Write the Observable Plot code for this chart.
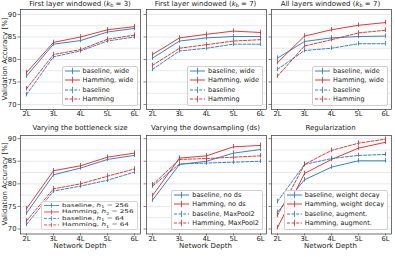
<!DOCTYPE html>
<html><head><meta charset="utf-8">
<script src="https://cdn.jsdelivr.net/npm/d3@7"></script>
<script src="https://cdn.jsdelivr.net/npm/@observablehq/plot@0.6"></script>
<style>
body{margin:0;background:#fff;}
#root{position:relative;width:395px;height:257px;overflow:hidden;font-family:"DejaVu Sans",sans-serif;color:#222;}
.abs{position:absolute;}
.title{font-size:7px;line-height:7px;white-space:nowrap;transform:translateX(-50%);}
.sub{font-size:70%;position:relative;top:0.3em;}
.xlab{font-size:7px;line-height:7px;white-space:nowrap;transform:translateX(-50%);}
.ylab{font-size:7px;line-height:7px;white-space:nowrap;transform:translate(-50%,-50%) rotate(-90deg);}
.legend{border:0.8px solid #cfcfcf;border-radius:2px;background:rgba(255,255,255,0.85);padding:0 3px 1.5px 2px;font-size:6.5px;}
.lrow{display:flex;align-items:center;height:9.1px;white-space:nowrap;}
.lrow svg{flex:none;margin-right:3px;}
</style></head><body><div id="root"></div>
<script>
// ---------- data ----------
const depths = ["2L","3L","4L","5L","6L"];
const yTicks = [70,75,80,85,90];
const gridTicks = [70,72.5,75,77.5,80,82.5,85,87.5,90];
const ERR = 0.5; // approximate error-bar half length (accuracy %)

// Panel 1: First layer windowed (k_b = 3)
const p1BaselineWide = [76.3, 83.4, 84.2, 86.1, 86.9];
const p1HammingWide  = [77.1, 83.8, 85.0, 86.6, 87.3];
const p1Baseline     = [72.2, 80.6, 81.9, 84.1, 85.0];
const p1Hamming      = [73.5, 81.1, 82.2, 84.5, 85.4];
// Panel 2: First layer windowed (k_b = 7)
const p2BaselineWide = [80.3, 84.1, 84.8, 85.1, 85.1];
const p2HammingWide  = [81.1, 84.8, 85.6, 86.3, 86.0];
const p2Baseline     = [77.8, 81.9, 82.5, 83.4, 83.4];
const p2Hamming      = [78.7, 82.5, 83.3, 84.1, 84.4];
// Panel 3: All layers windowed (k_b = 7)
const p3BaselineWide = [80.3, 84.0, 84.8, 85.1, 85.2];
const p3HammingWide  = [79.3, 85.2, 86.6, 87.6, 88.2];
const p3Baseline     = [77.8, 82.0, 82.5, 83.5, 83.5];
const p3Hamming      = [76.3, 83.0, 84.4, 85.9, 86.5];
// Panel 4: Varying the bottleneck size
const p4Baseline256 = [73.5, 82.0, 83.5, 85.4, 86.3];
const p4Hamming256  = [74.5, 82.9, 84.0, 85.9, 86.8];
const p4Baseline64  = [71.0, 78.4, 79.5, 80.8, 82.6];
const p4Hamming64   = [71.8, 78.9, 80.0, 81.7, 83.3];
// Panel 5: Varying the downsampling (ds)
const p5BaselineNoDs = [76.4, 84.3, 85.0, 86.8, 87.6];
const p5HammingNoDs  = [77.4, 85.7, 86.2, 88.2, 88.5];
const p5BaselineMP2  = [79.5, 84.4, 84.6, 84.8, 85.0];
const p5HammingMP2   = [79.8, 85.4, 85.6, 85.9, 86.2];
// Panel 6: Regularization
const p6BaselineWD  = [73.7, 80.9, 83.7, 85.1, 85.1];
const p6HammingWD   = [70.3, 82.3, 85.4, 87.9, 89.2];
const p6BaselineAug = [76.1, 84.3, 85.6, 86.3, 86.5];
const p6HammingAug  = [73.0, 84.3, 87.4, 89.0, 89.9];

const titles = [
  'First layer windowed (<i>k</i><span class="sub">b</span> = 3)',
  'First layer windowed (<i>k</i><span class="sub">b</span> = 7)',
  'All layers windowed (<i>k</i><span class="sub">b</span> = 7)',
  'Varying the bottleneck size',
  'Varying the downsampling (ds)',
  'Regularization'
];
const labels = [
  ["baseline, wide","Hamming, wide","baseline","Hamming"],
  ["baseline, wide","Hamming, wide","baseline","Hamming"],
  ["baseline, wide","Hamming, wide","baseline","Hamming"],
  ['baseline, <i>h</i><span class="sub">1</span> = 256','Hamming, <i>h</i><span class="sub">2</span> = 256','baseline, <i>h</i><span class="sub">1</span> = 64','Hamming, <i>h</i><span class="sub">1</span> = 64'],
  ["baseline, no ds","Hamming, no ds","baseline, MaxPool2","Hamming, MaxPool2"],
  ["baseline, weight decay","Hamming, weight decay","baseline, augment.","Hamming, augment."]
];
const values = [
  [p1BaselineWide,p1HammingWide,p1Baseline,p1Hamming],
  [p2BaselineWide,p2HammingWide,p2Baseline,p2Hamming],
  [p3BaselineWide,p3HammingWide,p3Baseline,p3Hamming],
  [p4Baseline256,p4Hamming256,p4Baseline64,p4Hamming64],
  [p5BaselineNoDs,p5HammingNoDs,p5BaselineMP2,p5HammingMP2],
  [p6BaselineWD,p6HammingWD,p6BaselineAug,p6HammingAug]
];

// ---------- styles / layout ----------
const BLUE = "#1f77b4", RED = "#d62728";
const seriesStyle = [
  {color: BLUE, dash: null},
  {color: RED, dash: null},
  {color: BLUE, dash: "3,1.6"},
  {color: RED, dash: "3,1.6"}
];
const colLeft = [20, 145.5, 270.5];
const frameW = 120;
const rows = [
  {top: 9, h: 100, domain: [68.9, 91.1], titleTop: 0.8},
  {top: 134.5, h: 98.5, domain: [68.9, 90.7], titleTop: 124.8}
];

const root = document.getElementById("root");
const mL = 20, mR = 3, mT = 2, mB = 12;

values.forEach((series, p) => {
  const col = p % 3, row = rows[Math.floor(p / 3)];
  const data = [];
  series.forEach((vals, s) => vals.forEach((v, i) => data.push({depth: depths[i], value: v, s})));
  const marks = [
    Plot.gridY(gridTicks, {stroke: "#c8c8c8", strokeOpacity: 0.7, strokeWidth: 0.6}),
    Plot.axisY(yTicks, {tickSize: 2.5, tickPadding: 1.5, tickFormat: col === 0 ? (d => d) : (() => ""), label: null, stroke: "#333", strokeWidth: 0.6}),
    Plot.axisX(depths, {tickSize: 2, tickPadding: 0, label: null, stroke: "#333", strokeWidth: 0.6})
  ];
  seriesStyle.forEach((st, s) => {
    const d = data.filter(r => r.s === s);
    marks.push(Plot.line(d, {x: "depth", y: "value", stroke: st.color, strokeWidth: 0.9, strokeDasharray: st.dash}));
    marks.push(Plot.ruleX(d, {x: "depth", y1: r => r.value - ERR, y2: r => r.value + ERR, stroke: st.color, strokeWidth: 0.8}));
  });
  marks.push(Plot.frame({stroke: "#333", strokeWidth: 0.7}));
  const chart = Plot.plot({
    width: mL + frameW + mR,
    height: mT + row.h + mB,
    marginLeft: mL, marginRight: mR, marginTop: mT, marginBottom: mB,
    x: {type: "point", domain: depths, padding: 0.2},
    y: {domain: row.domain},
    style: {background: "none", overflow: "visible", fontFamily: "DejaVu Sans", fontSize: "6.8px", color: "#222"},
    marks
  });
  chart.style.position = "absolute";
  chart.style.left = (colLeft[col] - mL) + "px";
  chart.style.top = (row.top - mT) + "px";
  root.appendChild(chart);

  // title
  const t = document.createElement("div");
  t.className = "abs title";
  t.innerHTML = titles[p];
  t.style.left = (colLeft[col] + frameW / 2) + "px";
  t.style.top = row.titleTop + "px";
  root.appendChild(t);

  // legend
  const lg = document.createElement("div");
  lg.className = "abs legend";
  lg.style.right = (395 - (colLeft[col] + frameW) + 2.5) + "px";
  lg.style.bottom = (257 - (row.top + row.h) + 3.3) + "px";
  if (p === 3) { lg.style.transform = "scaleY(0.72)"; lg.style.transformOrigin = "bottom right"; lg.style.fontSize = "7.2px"; }
  seriesStyle.forEach((st, s) => {
    const r = document.createElement("div");
    r.className = "lrow";
    const svg = d3.create("svg").attr("width", 15).attr("height", 8);
    svg.append("line").attr("x1", 0).attr("x2", 15).attr("y1", 4).attr("y2", 4)
      .attr("stroke", st.color).attr("stroke-width", 0.9).attr("stroke-dasharray", st.dash);
    svg.append("line").attr("x1", 7.5).attr("x2", 7.5).attr("y1", 0.8).attr("y2", 7.2)
      .attr("stroke", st.color).attr("stroke-width", 0.8);
    r.appendChild(svg.node());
    const sp = document.createElement("span");
    sp.innerHTML = labels[p][s];
    r.appendChild(sp);
    lg.appendChild(r);
  });
  root.appendChild(lg);

  // x label for bottom row
  if (p >= 3) {
    const xl = document.createElement("div");
    xl.className = "abs xlab";
    xl.textContent = "Network Depth";
    xl.style.left = (colLeft[col] + frameW / 2) + "px";
    xl.style.top = "243px";
    root.appendChild(xl);
  }
  if (col === 0) {
    const yl = document.createElement("div");
    yl.className = "abs ylab";
    yl.textContent = "Validation Accuracy [%]";
    yl.style.left = "5px";
    yl.style.top = (row.top + row.h / 2) + "px";
    root.appendChild(yl);
  }
});
</script></body></html>
